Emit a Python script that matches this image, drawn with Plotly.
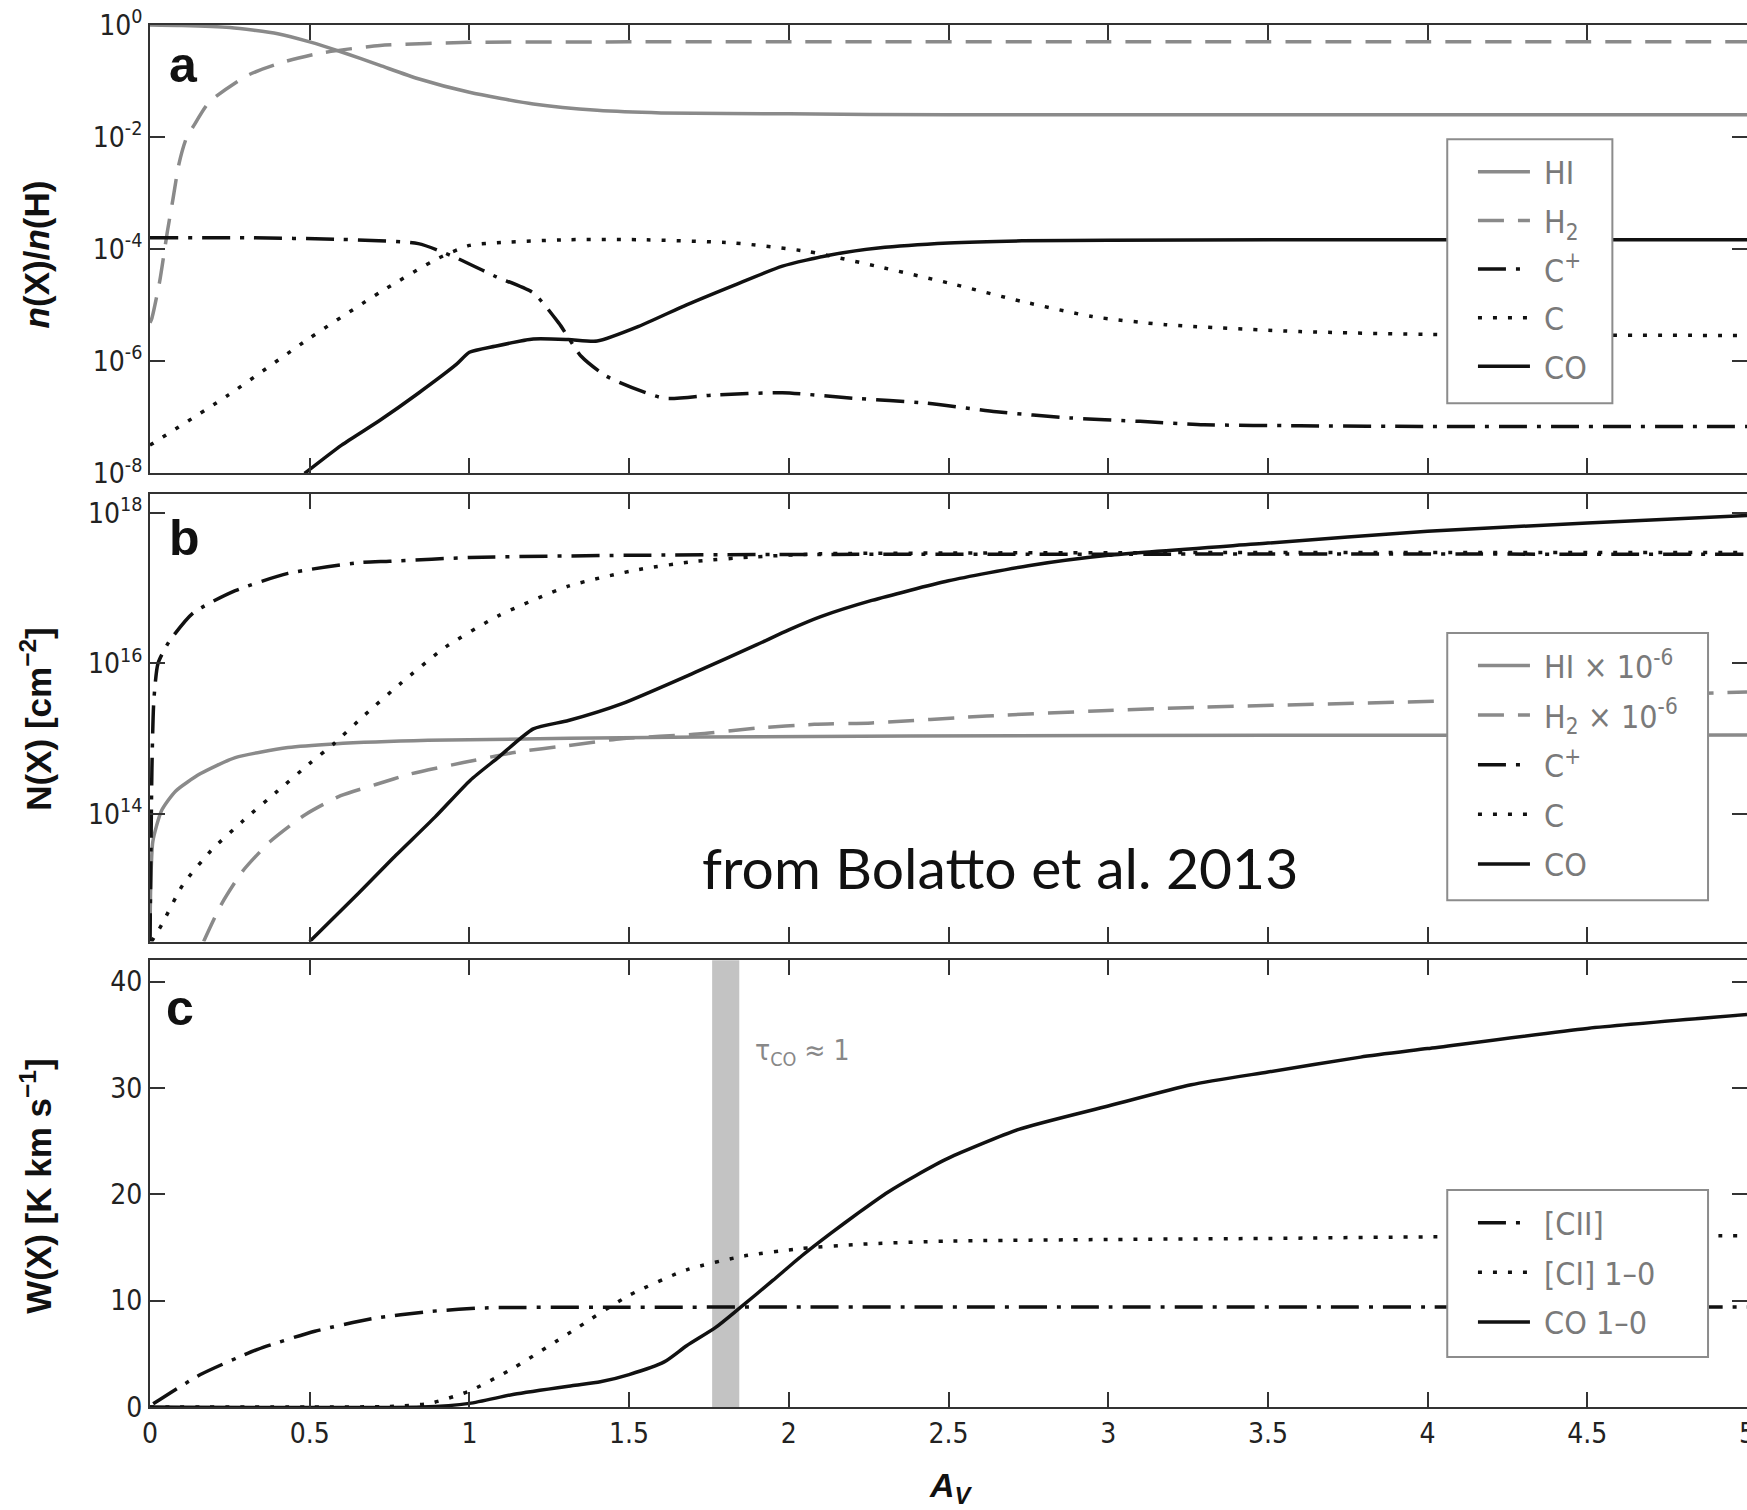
import plotly.graph_objects as go

# ---------------- Panel a : n(X)/n(H) ----------------
a_hi_x = [0, 0.1, 0.25, 0.4, 0.5, 0.6, 0.72, 0.84, 1.0, 1.2, 1.4, 1.6, 2.0, 2.5, 3, 4, 5]
a_hi_y = [1.0, 0.98, 0.9, 0.7, 0.5, 0.33, 0.19, 0.11, 0.063, 0.039, 0.03, 0.027, 0.026, 0.025, 0.025, 0.025, 0.025]

a_h2_x = [0, 0.006, 0.03, 0.054, 0.072, 0.09, 0.113, 0.137, 0.185, 0.305, 0.42, 0.54, 0.72, 1.0, 1.5, 2, 3, 5]
a_h2_y = [4.9e-6, 5.9e-6, 2.6e-5, 2.0e-4, 7.9e-4, 3.2e-3, 9.3e-3, 1.6e-2, 4.2e-2, 0.126, 0.22, 0.32, 0.43, 0.49, 0.5, 0.5, 0.5, 0.5]

a_cp_x = [0, 0.3, 0.6, 0.84, 0.95, 1.08, 1.2, 1.28, 1.35, 1.43, 1.61, 1.76, 1.98, 2.2, 2.43, 2.65, 2.88, 3.1, 3.3, 3.6, 4, 5]
a_cp_y = [1.6e-4, 1.6e-4, 1.5e-4, 1.26e-4, 7.4e-5, 3.3e-5, 1.66e-5, 4.8e-6, 1.23e-6, 5.4e-7, 2.2e-7, 2.5e-7,
          2.75e-7, 2.2e-7, 1.8e-7, 1.26e-7, 9.8e-8, 8.5e-8, 7.4e-8, 7.1e-8, 6.9e-8, 6.9e-8]

a_c_x = [0, 0.245, 0.5, 0.72, 0.9, 1.0, 1.1, 1.31, 1.53, 1.83, 2.06, 2.28, 2.5, 2.73, 2.95, 3.18, 3.6, 4.05, 5]
a_c_y = [3.2e-8, 2.5e-7, 2.6e-6, 1.7e-5, 6.8e-5, 1.17e-4, 1.32e-4, 1.48e-4, 1.48e-4, 1.29e-4, 9.1e-5, 4.9e-5,
         2.5e-5, 1.17e-5, 6.3e-6, 4.5e-6, 3.4e-6, 3.0e-6, 2.9e-6]

a_co_x = [0.484, 0.6, 0.72, 0.84, 0.96, 1.0, 1.08, 1.2, 1.31, 1.4, 1.53, 1.68, 1.83, 1.98, 2.13,
          2.28, 2.5, 2.73, 3.0, 4.0, 5.0]
a_co_y = [1.0e-8, 3.2e-8, 8.9e-8, 2.7e-7, 8.9e-7, 1.45e-6, 1.86e-6, 2.5e-6, 2.45e-6, 2.3e-6,
          4.2e-6, 1.02e-5, 2.3e-5, 5.0e-5, 7.9e-5, 1.05e-4, 1.29e-4, 1.41e-4, 1.45e-4, 1.48e-4, 1.48e-4]

# ---------------- Panel b : N(X) ----------------
b_hi_x = [0, 0.002, 0.009, 0.036, 0.08, 0.157, 0.267, 0.432, 0.575, 0.87, 1.72, 3, 5]
b_hi_y = [2.0e12, 1.0e13, 4.3e13, 1.1e14, 2.0e14, 3.4e14, 5.6e14, 7.6e14, 8.5e14, 9.5e14, 1.05e15, 1.1e15, 1.12e15]

b_h2_x = [0.168, 0.223, 0.289, 0.377, 0.487, 0.597, 0.707, 0.816, 0.981, 1.146, 1.31, 1.476, 1.715, 1.9, 2.08,
          2.26, 2.62, 2.98, 3.3, 4.05, 5]
b_h2_y = [2.0e12, 6.2e12, 1.7e13, 4.3e13, 9.8e13, 1.74e14, 2.45e14, 3.4e14, 4.8e14, 6.6e14, 8.1e14, 1.0e15,
          1.15e15, 1.38e15, 1.55e15, 1.62e15, 2.0e15, 2.35e15, 2.63e15, 3.16e15, 4.17e15]

b_cp_x = [0, 0.003, 0.006, 0.012, 0.025, 0.058, 0.135, 0.267, 0.432, 0.652, 0.75, 1.0, 1.5, 2.0, 3.0, 5.0]
b_cp_y = [2.0e12, 3.2e13, 4.0e14, 3.2e15, 1.0e16, 1.9e16, 4.7e16, 9.3e16, 1.58e17, 2.19e17, 2.29e17, 2.57e17,
          2.75e17, 2.82e17, 2.85e17, 2.85e17]

b_c_x = [0.005, 0.036, 0.102, 0.19, 0.289, 0.399, 0.498, 0.575, 0.674, 0.784, 0.926, 1.09, 1.31, 1.53, 1.715,
         1.9, 2.1, 2.5, 3, 4, 5]
b_c_y = [2.0e12, 3.3e12, 1.12e13, 3.2e13, 7.9e13, 2.0e14, 4.6e14, 8.5e14, 2.1e15, 5.4e15, 1.66e16, 4.3e16,
         1.07e17, 1.78e17, 2.3e17, 2.63e17, 2.88e17, 2.95e17, 2.98e17, 3.0e17, 3.0e17]

b_co_x = [0.5, 0.652, 0.762, 0.893, 1.003, 1.09, 1.2, 1.31, 1.476, 1.715, 1.9, 2.0, 2.1, 2.26, 2.5, 2.75, 3.0,
          3.5, 4.0, 4.5, 5.0]
b_co_y = [2.0e12, 8.7e12, 2.6e13, 9.1e13, 2.8e14, 5.6e14, 1.35e15, 1.74e15, 2.9e15, 7.9e15, 1.78e16, 2.8e16,
          4.2e16, 6.9e16, 1.26e17, 2.0e17, 2.75e17, 4.0e17, 5.75e17, 7.4e17, 9.3e17]

# ---------------- Panel c : W(X) ----------------
c_cii_x = [0.01, 0.03, 0.158, 0.337, 0.516, 0.695, 0.875, 1.05, 1.5, 2, 3, 4, 5]
c_cii_y = [0.3, 0.68, 3.05, 5.42, 7.12, 8.3, 8.98, 9.32, 9.38, 9.4, 9.4, 9.4, 9.4]

c_ci_x = [0, 0.5, 0.75, 0.875, 1.0, 1.14, 1.32, 1.5, 1.68, 1.86, 2.04, 2.22, 2.5, 3, 3.5, 4, 4.5, 5]
c_ci_y = [0, 0, 0.05, 0.34, 1.5, 3.7, 7.1, 10.5, 12.9, 14.2, 14.9, 15.3, 15.6, 15.75, 15.85, 16.0, 16.05, 16.1]

c_co_x = [0, 0.85, 1.0, 1.14, 1.32, 1.41, 1.5, 1.61, 1.68, 1.77, 1.84, 1.95, 2.04, 2.13, 2.22, 2.31, 2.4, 2.5,
          2.72, 3.0, 3.26, 3.5, 3.79, 4.0, 4.5, 5.0]
c_co_y = [0, 0, 0.34, 1.2, 2.0, 2.37, 3.05, 4.24, 5.76, 7.46, 9.15, 11.9, 14.2, 16.3, 18.3, 20.2, 21.8, 23.4,
          26.1, 28.3, 30.3, 31.5, 32.9, 33.7, 35.6, 36.9]

tau_band = [1.76, 1.845]

x_ticks = [0, 0.5, 1, 1.5, 2, 2.5, 3, 3.5, 4, 4.5, 5]
x_ticklabels = ["0", "0.5", "1", "1.5", "2", "2.5", "3", "3.5", "4", "4.5", "5"]
a_ticks = [1, 1e-2, 1e-4, 1e-6, 1e-8]
a_ticklabels = ["10<sup>0</sup>", "10<sup>-2</sup>", "10<sup>-4</sup>", "10<sup>-6</sup>", "10<sup>-8</sup>"]
b_ticks = [1e18, 1e16, 1e14]
b_ticklabels = ["10<sup>18</sup>", "10<sup>16</sup>", "10<sup>14</sup>"]
c_ticks = [0, 10, 20, 30, 40]

# ---------------- styles ----------------
GRAY = "#8a8a8a"
BLACK = "#111111"
DASH_H2 = "26px,14px"
DASH_CP = "28px,10px,4px,10px"
DOT = "4px,11px"
NARROW = "Liberation Sans Narrow, DejaVu Sans Condensed, Arial Narrow, Liberation Sans, sans-serif"
BOLD = "Liberation Sans, Arial, sans-serif"
SP = "\u00a0"

fig = go.Figure()


def add(x, y, name, color, width, dash, xa, ya, legend):
    fig.add_trace(go.Scatter(
        x=x, y=y, name=SP + name, mode="lines", xaxis=xa, yaxis=ya, legend=legend,
        legendgroup=legend + name,
        line=dict(color=color, width=width, dash=dash, shape="spline", smoothing=0.6),
        hoverinfo="skip"))


add(a_hi_x, a_hi_y, "HI", GRAY, 3.5, "solid", "x", "y", "legend")
add(a_h2_x, a_h2_y, "H<sub>2</sub>", GRAY, 3.5, DASH_H2, "x", "y", "legend")
add(a_cp_x, a_cp_y, "C<sup>+</sup>", BLACK, 3.5, DASH_CP, "x", "y", "legend")
add(a_c_x, a_c_y, "C", BLACK, 3.5, DOT, "x", "y", "legend")
add(a_co_x, a_co_y, "CO", BLACK, 3.5, "solid", "x", "y", "legend")

add(b_hi_x, b_hi_y, "HI × 10<sup>-6</sup>", GRAY, 3.5, "solid", "x2", "y2", "legend2")
add(b_h2_x, b_h2_y, "H<sub>2</sub> × 10<sup>-6</sup>", GRAY, 3.5, DASH_H2, "x2", "y2", "legend2")
add(b_cp_x, b_cp_y, "C<sup>+</sup>", BLACK, 3.5, DASH_CP, "x2", "y2", "legend2")
add(b_c_x, b_c_y, "C", BLACK, 3.5, DOT, "x2", "y2", "legend2")
add(b_co_x, b_co_y, "CO", BLACK, 3.5, "solid", "x2", "y2", "legend2")

add(c_cii_x, c_cii_y, "[CII]", BLACK, 3.5, DASH_CP, "x3", "y3", "legend3")
add(c_ci_x, c_ci_y, "[CI] 1–0", BLACK, 3.5, DOT, "x3", "y3", "legend3")
add(c_co_x, c_co_y, "CO 1–0", BLACK, 3.5, "solid", "x3", "y3", "legend3")

axis_common = dict(showline=True, linecolor="#333", linewidth=2, mirror="ticks", ticks="inside",
                   ticklen=15, tickwidth=2, tickcolor="#333", showgrid=False, zeroline=False,
                   ticklabeloverflow="allow", automargin=False,
                   tickfont=dict(family=NARROW, size=28, color="#222"))

xa = dict(axis_common, range=[0, 5], tickvals=x_ticks, ticktext=x_ticklabels, domain=[0, 1])

legend_common = dict(xanchor="left", yanchor="top", borderwidth=0, bgcolor="rgba(0,0,0,0)",
                     font=dict(family=NARROW, size=32, color="#7a7a7a"),
                     traceorder="grouped", tracegroupgap=5, itemwidth=52)

LX = 0.8284
fig.update_layout(
    width=1747, height=1510,
    margin=dict(l=150, r=0, t=25, b=103, autoexpand=False),
    paper_bgcolor="white", plot_bgcolor="white",
    showlegend=True,
    xaxis=dict(xa, anchor="y", showticklabels=False),
    xaxis2=dict(xa, anchor="y2", showticklabels=False),
    xaxis3=dict(xa, anchor="y3", showticklabels=True),
    yaxis=dict(axis_common, type="log", range=[-8, 0], domain=[0.6755, 1.0],
               tickvals=a_ticks, ticktext=a_ticklabels, anchor="x"),
    yaxis2=dict(axis_common, type="log", range=[12.3, 18.26], domain=[0.3368, 0.6609],
                tickvals=b_ticks, ticktext=b_ticklabels, anchor="x2"),
    yaxis3=dict(axis_common, range=[0, 42], domain=[0, 0.3232], tickvals=c_ticks, anchor="x3"),
    legend=dict(legend_common, x=LX, y=0.9135, tracegroupgap=4),
    legend2=dict(legend_common, x=LX, y=0.5563),
    legend3=dict(legend_common, x=LX, y=0.1531),
)

# tau_CO ~ 1 band
fig.add_shape(type="rect", xref="x3", yref="y3 domain", x0=tau_band[0], x1=tau_band[1], y0=0, y1=1,
              fillcolor="#c3c3c3", line=dict(width=0), layer="below")

# legend frames
for x0, x1, y0, y1 in [(0.8123, 0.9157, 0.7263, 0.9173), (0.8123, 0.9756, 0.3666, 0.5601),
                       (0.8123, 0.9756, 0.0362, 0.157)]:
    fig.add_shape(type="rect", xref="paper", yref="paper", x0=x0, x1=x1, y0=y0, y1=y1,
                  fillcolor="white", line=dict(color="#8c8c8c", width=2), layer="above")

ann = []
for txt, xx, yy in [("a", 0.0207, 0.9713), ("b", 0.0219, 0.6288), ("c", 0.019, 0.2887)]:
    ann.append(dict(text=f"<b>{txt}</b>", xref="paper", yref="paper", x=xx, y=yy,
                    xanchor="center", yanchor="middle", showarrow=False,
                    font=dict(family=BOLD, size=50, color="#111")))
ann.append(dict(text="τ<sub>CO</sub> ≈ 1", xref="x3", yref="y3", x=1.888, y=33.3, xanchor="left",
                yanchor="middle", showarrow=False, font=dict(family=NARROW, size=28, color="#888")))
ann.append(dict(text="from Bolatto et al. 2013", xref="paper", yref="paper", x=0.532, y=0.3908,
                xanchor="center", yanchor="middle", showarrow=False,
                font=dict(family="Lato, sans-serif", size=57, color="#111")))
ann.append(dict(text="<b><i>n</i>(X)/<i>n</i>(H)</b>", xref="paper", yref="paper", x=-0.0714, y=0.834,
                xanchor="center", yanchor="middle",
                textangle=-90, showarrow=False, font=dict(family=BOLD, size=35, color="#111")))
ann.append(dict(text="<b>N(X) [cm<sup>−2</sup>]</b>", xref="paper", yref="paper", x=-0.0714, y=0.498,
                xanchor="center", yanchor="middle",
                textangle=-90, showarrow=False, font=dict(family=BOLD, size=35, color="#111")))
ann.append(dict(text="<b>W(X) [K km s<sup>−1</sup>]</b>", xref="paper", yref="paper", x=-0.0714, y=0.160,
                xanchor="center", yanchor="middle",
                textangle=-90, showarrow=False, font=dict(family=BOLD, size=35, color="#111")))
ann.append(dict(text="<b><i>A<sub>V</sub></i></b>", xref="paper", yref="paper", x=0.5013, y=-0.0582,
                xanchor="center", yanchor="middle",
                showarrow=False, font=dict(family=BOLD, size=34, color="#111")))
fig.update_layout(annotations=ann)

fig.write_html("out.html", config={"displayModeBar": False},
               post_script="document.body.style.margin='0';document.body.style.overflow='hidden';")
